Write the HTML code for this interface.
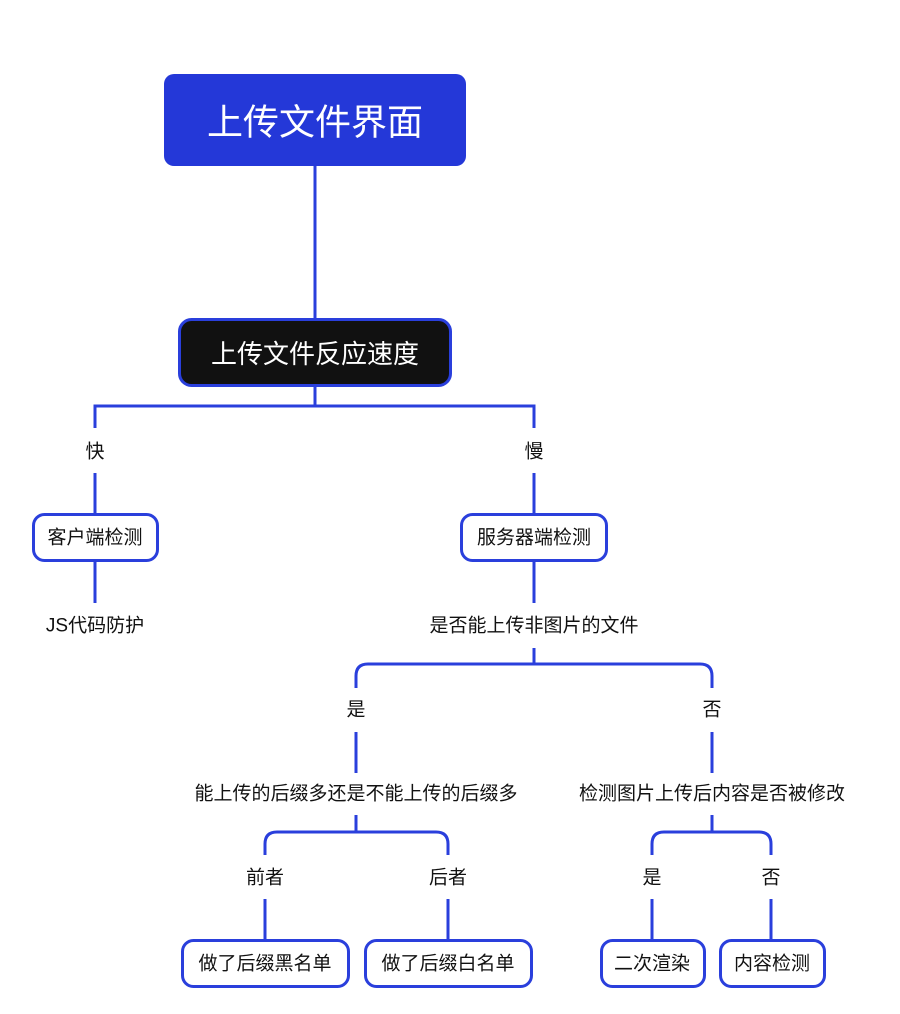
<!DOCTYPE html>
<html><head><meta charset="utf-8"><style>
html,body{margin:0;padding:0;background:#fff;}
svg{display:block;}
text{font-family:"Liberation Sans","Noto Sans CJK SC",sans-serif;text-anchor:middle;dominant-baseline:central;}
.l{fill:#111;font-size:19px;}
</style></head><body>
<svg width="900" height="1014" viewBox="0 0 900 1014" xmlns="http://www.w3.org/2000/svg">
<g stroke="#2a3fdc" stroke-width="3" fill="none">
<line x1="315" y1="166" x2="315" y2="318"/>
<path d="M315 387 V406 M95 428 V406 H534 V428"/>
<line x1="95" y1="473" x2="95" y2="513"/>
<line x1="534" y1="473" x2="534" y2="513"/>
<line x1="95" y1="562" x2="95" y2="603"/>
<line x1="534" y1="562" x2="534" y2="603"/>
<path d="M534 648 V664 M356 688 V676 Q356 664 368 664 H700 Q712 664 712 676 V688"/>
<line x1="356" y1="732" x2="356" y2="773"/>
<line x1="712" y1="732" x2="712" y2="773"/>
<path d="M356 815 V832 M265 855 V844 Q265 832 277 832 H436 Q448 832 448 844 V855"/>
<path d="M712 815 V832 M652 855 V844 Q652 832 664 832 H759 Q771 832 771 844 V855"/>
<line x1="265" y1="899" x2="265" y2="940"/>
<line x1="448" y1="899" x2="448" y2="940"/>
<line x1="652" y1="899" x2="652" y2="940"/>
<line x1="771" y1="899" x2="771" y2="940"/>
</g>
<rect x="164" y="74" width="302" height="92" rx="10" fill="#2438d8"/>
<text x="315" y="122" fill="#fff" font-size="36">上传文件界面</text>
<rect x="179.5" y="319.5" width="271" height="66" rx="12" fill="#111" stroke="#2a3fdc" stroke-width="3"/>
<text x="315" y="354" fill="#fff" font-size="26">上传文件反应速度</text>
<g fill="#fff" stroke="#2a3fdc" stroke-width="3">
<rect x="33.5" y="514.5" width="124" height="46" rx="11"/>
<rect x="461.5" y="514.5" width="145" height="46" rx="11"/>
<rect x="182.5" y="940.5" width="166" height="46" rx="11"/>
<rect x="365.5" y="940.5" width="166" height="46" rx="11"/>
<rect x="601.5" y="940.5" width="103" height="46" rx="11"/>
<rect x="720.5" y="940.5" width="104" height="46" rx="11"/>
</g>
<text class="l" x="95" y="452">快</text>
<text class="l" x="534" y="452">慢</text>
<text class="l" x="95" y="538">客户端检测</text>
<text class="l" x="534" y="538">服务器端检测</text>
<text class="l" x="95" y="626">JS代码防护</text>
<text class="l" x="534" y="626">是否能上传非图片的文件</text>
<text class="l" x="356" y="710">是</text>
<text class="l" x="712" y="710">否</text>
<text class="l" x="356" y="794">能上传的后缀多还是不能上传的后缀多</text>
<text class="l" x="712" y="794">检测图片上传后内容是否被修改</text>
<text class="l" x="265" y="878">前者</text>
<text class="l" x="448" y="878">后者</text>
<text class="l" x="652" y="878">是</text>
<text class="l" x="771" y="878">否</text>
<text class="l" x="265" y="964">做了后缀黑名单</text>
<text class="l" x="448" y="964">做了后缀白名单</text>
<text class="l" x="652" y="964">二次渲染</text>
<text class="l" x="772" y="964">内容检测</text>
</svg>
</body></html>
